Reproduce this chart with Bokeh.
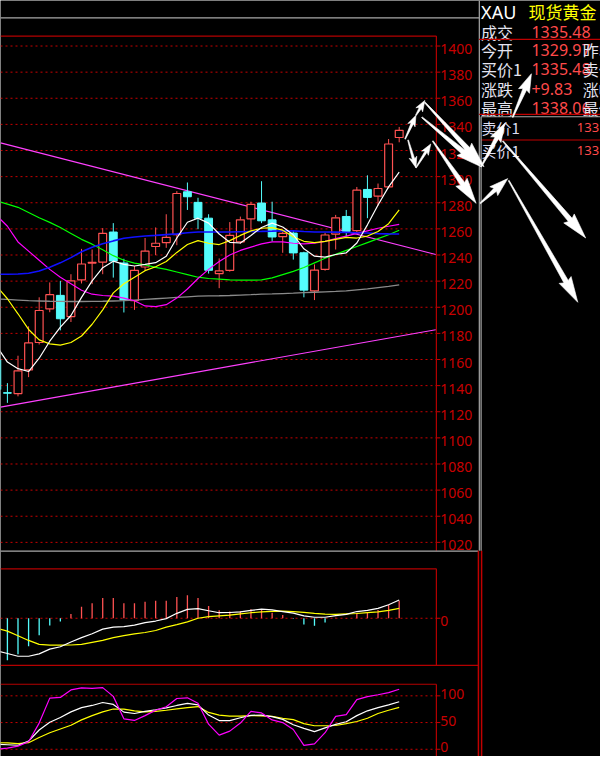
import math
from bokeh.plotting import figure
from bokeh.models import Range1d
from bokeh.core.properties import value
from bokeh.embed import file_html
from bokeh.resources import INLINE

# ---------------- data ----------------
idx = list(range(-1, 38))
opens = [1160, 1134.6, 1133.9, 1152, 1173, 1198.8, 1209.1, 1192.9, 1221, 1233.8,
         1234.6, 1257.6, 1233.9, 1205.1, 1230.8, 1246.5, 1249.5, 1255.6, 1288.4, 1280.3,
         1268.2, 1225.8, 1228.3, 1250, 1267.7, 1279.8, 1266.9, 1254, 1256.8, 1241.7,
         1212.6, 1229, 1256, 1269.5, 1258.6, 1290.2, 1285.1, 1292.2, 1329.97]
highs = [1162, 1141.9, 1162.9, 1185.4, 1207.6, 1219, 1220.2, 1225.3, 1244.7, 1244.2,
         1260.6, 1264.4, 1237.1, 1231.6, 1253, 1261.1, 1271.2, 1288.9, 1295.5, 1283.8,
         1271.2, 1237.4, 1265.2, 1269.4, 1280.8, 1296.5, 1280.8, 1258, 1258.5, 1242.5,
         1232.8, 1257, 1270.7, 1274.5, 1292.1, 1301, 1294.7, 1328.8, 1338.06]
lows = [1135, 1126.8, 1131.8, 1146.5, 1171.5, 1196.2, 1182.3, 1188.7, 1218.2, 1217.7,
        1225.3, 1222.7, 1196, 1198, 1227.8, 1239.9, 1245.5, 1247.5, 1274.5, 1259.8,
        1225.8, 1214.6, 1227.3, 1248.5, 1259.3, 1264.4, 1250.5, 1241.7, 1236.5, 1207.6,
        1205.5, 1228, 1244.2, 1254.3, 1257.5, 1268.2, 1277.8, 1291, 1326.3]
closes = [1137, 1134.2, 1151.3, 1172.7, 1197.5, 1209.6, 1191.2, 1220.2, 1233.1, 1234.3,
          1256.6, 1235.4, 1205.6, 1228.3, 1243, 1249, 1253.5, 1287.1, 1284.6, 1268.2,
          1228.3, 1227.8, 1255.1, 1266.9, 1278.8, 1266.2, 1253.8, 1256.6, 1241.6, 1213.1,
          1228.5, 1255.3, 1268.5, 1258.1, 1289.6, 1284.1, 1290.9, 1325, 1335.48]

ma_white = [1170, 1158, 1153, 1150.8, 1161, 1174, 1184.8, 1193.7, 1207.6, 1220.2,
            1230.3, 1235.3, 1232.8, 1231.6, 1232.8, 1234.1, 1239.1, 1253, 1265.1, 1268.2,
            1264.4, 1256.1, 1249.7, 1249.2, 1255, 1261.1, 1264.4, 1261.4, 1255.5, 1244.7,
            1239.1, 1238.4, 1240.4, 1241.7, 1249.2, 1263.1, 1278.3, 1292.2, 1303.5]
ma_yellow = [1216, 1206.5, 1195, 1183, 1175, 1172, 1171, 1173, 1178, 1187,
             1198, 1211, 1218, 1223, 1228, 1231, 1235, 1242, 1248, 1251,
             1249, 1248, 1251, 1255, 1258.5, 1260.5, 1261, 1259, 1254, 1250.5,
             1249.5, 1250.5, 1252, 1253.5, 1253, 1254.5, 1258, 1264, 1274.5]
ma_magenta = [1270, 1262, 1250, 1243, 1236, 1229, 1223, 1218, 1213, 1210,
              1209, 1208.5, 1207, 1205, 1201, 1200.5, 1202, 1207, 1214, 1222,
              1229, 1235, 1240, 1243.5, 1246, 1248.5, 1250, 1250, 1249, 1248.5,
              1249, 1250.5, 1252.5, 1254.5, 1256.5, 1258.5, 1260.5, 1262, 1263.5]
ma_green = [1281.5, 1279, 1276.5, 1272.5, 1268.5, 1265, 1261, 1256.5, 1252, 1248.3,
            1244, 1239.5, 1236, 1233.8, 1232.4, 1230.5, 1229, 1227, 1225, 1223,
            1222, 1221.5, 1221, 1220.7, 1220.7, 1221, 1222.5, 1225, 1227.5, 1230.4,
            1234, 1237.5, 1240.5, 1243.5, 1246.5, 1249.5, 1252.5, 1255.5, 1259]
ma_blue = [1225.2, 1225.3, 1225.5, 1226, 1227.8, 1230.7, 1234, 1238, 1242.5, 1246,
           1248.6, 1250.8, 1252.8, 1253.8, 1254.5, 1255, 1255.6, 1256.2, 1257, 1257.6,
           1257.6, 1257.6, 1257.6, 1257.8, 1258, 1258.1, 1258.3, 1258.6, 1258.5, 1258,
           1257.6, 1257.6, 1257.5, 1257.3, 1257, 1256.8, 1256.4, 1256.2, 1256.1]
ma_gray = [1206.3, 1206, 1205.5, 1205, 1204.8, 1204.6, 1204.5, 1204.4, 1204.4, 1204.5,
           1204.6, 1204.8, 1205, 1205.5, 1206, 1206.5, 1207, 1207.5, 1208, 1208.5,
           1208.7, 1208.8, 1209, 1209.3, 1209.6, 1210, 1210.2, 1210.5, 1210.8, 1211.2,
           1211.5, 1211.8, 1212.1, 1212.6, 1213.3, 1214, 1215, 1216, 1217.2]

trend_upper_x = [-0.65, 40.45]
trend_upper_y = [1325.8, 1240.4]
trend_lower_x = [-0.65, 40.45]
trend_lower_y = [1123.6, 1182.8]

macd_hist = [-10.5, -10.6, -9.1, -7.1, -4.3, -1.8, -0.8, 1.1, 2.9, 3.8,
             5.1, 5.1, 3.8, 3.8, 4.2, 4.4, 4.4, 5.4, 5.8, 5.1,
             3.1, 2.0, 1.7, 1.8, 2.3, 2.1, 1.4, 0.8, -0.1, -1.6,
             -1.9, -1.1, 0.1, 0.05, 1.3, 1.6, 2.1, 3.4, 4.4]
macd_dif = [-8.25, -8.9, -9.6, -9.6, -9.0, -7.8, -7.2, -6.0, -4.9, -3.9,
            -2.75, -2.25, -2.1, -1.75, -1.1, -0.7, -0.1, 1.25, 2.25, 2.45,
            1.9, 1.4, 1.45, 1.6, 2.0, 2.3, 2.1, 1.7, 1.3, 0.6,
            0.25, 0.25, 0.65, 1.0, 1.7, 2.0, 2.5, 3.4, 4.6]
macd_dea = [-2.5, -3.25, -4.4, -5.6, -6.6, -6.8, -6.8, -6.75, -6.6, -6.1,
            -5.6, -4.9, -4.4, -3.95, -3.6, -3.1, -2.25, -1.6, -0.9, 0,
            0.4, 0.6, 0.8, 1.1, 1.4, 1.6, 1.75, 1.8, 1.7, 1.5,
            1.25, 1.05, 1.0, 1.1, 1.2, 1.4, 1.6, 2.0, 2.5]

kdj_k = [9.5, 8.5, 7.5, 15.4, 36, 50.6, 59.5, 70, 78, 82,
         87.5, 84, 69.5, 67, 71, 74, 77.5, 82, 86, 83,
         64, 53.7, 53.7, 59, 63.5, 64, 61, 56, 46, 39,
         33, 40, 46.5, 51.5, 63, 72, 78, 83, 89]
kdj_d = [12.3, 12, 10.5, 12.3, 22, 31, 38, 45, 55, 63,
         70, 75.3, 75.3, 72, 70, 71, 73, 75.5, 78, 80,
         69, 64, 62, 62, 63, 62.5, 61.7, 58, 55.6, 48,
         44, 44, 44.5, 48, 52, 58, 67, 73, 78.4]
kdj_j = [0, 2, 6, 14, 49, 95.7, 97, 111, 114.8, 114,
         115.4, 99, 57, 54, 63, 73, 79.5, 95, 96.3, 86,
         47, 26.5, 34, 49, 71, 68, 55, 50, 37, 7.4,
         10, 31, 61.5, 65, 93, 98.5, 102, 106, 112.3]

price_ticks = list(range(1020, 1401, 20))
kdj_ticks = [0, 50, 100]

quote_labels = ["成交", "今开", "买价1", "涨跌", "最高"]
quote_values = ["1335.48", "1329.97", "1335.48", "+9.83", "1338.06"]
quote_side = ["", "昨收", "卖价", "涨幅", "最低"]
book_labels = ["卖价1", "买价1"]
book_values = ["133", "133"]

# ---------------- layout anchors (reference pixels) ----------------
X_I0, X_STEP = 7.0, 10.73          # x pixel of candle 0, spacing
Y_1400, PX_PER_20 = 46.0, 26.4      # price panel
MACD_Y0, MACD_PX = 624.3, 4.0       # macd zero line, px per unit
KDJ_Y0, KDJ_PX = 756.7, 0.54        # kdj zero line, px per unit
FRAME_R = 441.7
VIEW_L, VIEW_R, VIEW_T, VIEW_B = 0, 608, 0, 764


def xi(px):
    return (px - X_I0) / X_STEP


def price_at(py):
    return 1400 - (py - Y_1400) * 20.0 / PX_PER_20


def macd_at(py):
    return (MACD_Y0 - py) / MACD_PX


def kdj_at(py):
    return (KDJ_Y0 - py) / KDJ_PX


RED_GRID = "#c80000"
RED_TXT = "#c80000"
UP = "#ff5252"
DOWN = "#54fcfc"
NUM_RED = "#ff4a4a"
CJK = value("Noto Sans CJK SC")

p = figure(width=600, height=756,
           x_range=Range1d(xi(VIEW_L), xi(VIEW_R)),
           y_range=Range1d(price_at(VIEW_B), price_at(VIEW_T)),
           output_backend="svg", toolbar_location=None, min_border=0,
           x_axis_type=None, y_axis_type=None,
           background_fill_color="black", border_fill_color="black",
           outline_line_color=None)
p.extra_x_ranges = {"px": Range1d(VIEW_L, VIEW_R)}
p.extra_y_ranges = {"py": Range1d(VIEW_B, VIEW_T),
                    "macd": Range1d(macd_at(VIEW_B), macd_at(VIEW_T)),
                    "kdj": Range1d(kdj_at(VIEW_B), kdj_at(VIEW_T))}

PX = dict(x_range_name="px", y_range_name="py")

# ---------------- price panel grid / frame / axis ----------------
n = len(price_ticks)
p.segment(x0=[0] * n, x1=[FRAME_R] * n, y0=price_ticks, y1=price_ticks,
          x_range_name="px", line_color=RED_GRID, line_width=1, line_dash="2 3")
p.segment(x0=[FRAME_R] * n, x1=[FRAME_R + 4] * n, y0=price_ticks, y1=price_ticks,
          x_range_name="px", line_color=RED_GRID, line_width=1)
p.text(x=[445.5] * n, y=price_ticks, text=[str(t) for t in price_ticks],
       x_range_name="px", y_offset=3, text_color=RED_TXT, text_font=value("Noto Sans"),
       text_font_size="14px", text_baseline="middle", text_align="left")

# frames and separators (pixel space)
p.segment(x0=[0, FRAME_R, 0, FRAME_R, 0, FRAME_R, 0],
          y0=[36, 36, 574.3, 574.3, 672, 691, 691],
          x1=[FRAME_R, FRAME_R, FRAME_R, FRAME_R, 484, FRAME_R, FRAME_R],
          y1=[36, 556, 574.3, 672, 672, 764, 691],
          line_color="#b40000", line_width=1.2, **PX)
p.segment(x0=[0, 0, 485.2], y0=[17.5, 556.5, 0], x1=[485, 484, 485.2], y1=[17.5, 556.5, 556],
          line_color="#a8a8a8", line_width=1.2, **PX)
p.segment(x0=[484.3, 487.5], y0=[556, 556], x1=[484.3, 487.5], y1=[764, 764],
          line_color="#c00000", line_width=1.5, **PX)

# ---------------- trend lines ----------------
p.line(trend_upper_x, trend_upper_y, line_color="#ff40ff", line_width=1.2)
p.line(trend_lower_x, trend_lower_y, line_color="#ff40ff", line_width=1.2)

# ---------------- candles ----------------
up_i = [i for i, o, c in zip(idx, opens, closes) if c >= o]
dn_i = [i for i, o, c in zip(idx, opens, closes) if c < o]
up = [(o, h, l, c) for o, h, l, c in zip(opens, highs, lows, closes) if c >= o]
dn = [(o, h, l, c) for o, h, l, c in zip(opens, highs, lows, closes) if c < o]

p.segment(x0=dn_i, x1=dn_i, y0=[d[2] for d in dn], y1=[d[1] for d in dn],
          line_color=DOWN, line_width=1)
p.vbar(x=dn_i, width=0.74, top=[d[0] for d in dn], bottom=[d[3] for d in dn],
       fill_color=DOWN, line_color=DOWN, line_width=1)
p.segment(x0=up_i, x1=up_i, y0=[u[3] for u in up], y1=[u[1] for u in up],
          line_color=UP, line_width=1)
p.segment(x0=up_i, x1=up_i, y0=[u[2] for u in up], y1=[u[0] for u in up],
          line_color=UP, line_width=1)
p.vbar(x=up_i, width=0.74, top=[u[3] for u in up], bottom=[u[0] for u in up],
       fill_color="black", line_color=UP, line_width=1.2)

# ---------------- moving averages ----------------
p.line(idx, ma_gray, line_color="#8a8a8a", line_width=1.3)
p.line(idx, ma_green, line_color="#00ff00", line_width=1.2)
p.line(idx, ma_magenta, line_color="#ff00ff", line_width=1.2)
p.line(idx, ma_blue, line_color="#1010ff", line_width=1.6)
p.line(idx, ma_yellow, line_color="#ffff00", line_width=1.2)
p.line(idx, ma_white, line_color="#ffffff", line_width=1.2)

# ---------------- MACD ----------------
p.segment(x0=[0], x1=[FRAME_R], y0=[0], y1=[0], x_range_name="px", y_range_name="macd",
          line_color=RED_GRID, line_width=1, line_dash="2 3")
p.segment(x0=[FRAME_R], x1=[FRAME_R + 4], y0=[0], y1=[0], x_range_name="px",
          y_range_name="macd", line_color=RED_GRID, line_width=1)
p.text(x=[445.5], y=[0], text=["0"], x_range_name="px", y_range_name="macd", y_offset=3,
       text_color=RED_TXT, text_font=value("Noto Sans"), text_font_size="14px",
       text_baseline="middle")
h_up = [(i, v) for i, v in zip(idx, macd_hist) if v >= 0]
h_dn = [(i, v) for i, v in zip(idx, macd_hist) if v < 0]
p.segment(x0=[a for a, _ in h_up], x1=[a for a, _ in h_up], y0=[0] * len(h_up),
          y1=[b for _, b in h_up], y_range_name="macd", line_color=UP, line_width=1.3)
p.segment(x0=[a for a, _ in h_dn], x1=[a for a, _ in h_dn], y0=[0] * len(h_dn),
          y1=[b for _, b in h_dn], y_range_name="macd", line_color=DOWN, line_width=1.3)
p.line(idx, macd_dea, y_range_name="macd", line_color="#ffff00", line_width=1.2)
p.line(idx, macd_dif, y_range_name="macd", line_color="#ffffff", line_width=1.2)

# ---------------- KDJ ----------------
nk = len(kdj_ticks)
p.segment(x0=[0] * nk, x1=[FRAME_R] * nk, y0=kdj_ticks, y1=kdj_ticks, x_range_name="px",
          y_range_name="kdj", line_color=RED_GRID, line_width=1, line_dash="2 3")
p.segment(x0=[FRAME_R] * nk, x1=[FRAME_R + 4] * nk, y0=kdj_ticks, y1=kdj_ticks,
          x_range_name="px", y_range_name="kdj", line_color=RED_GRID, line_width=1)
p.text(x=[445.5] * nk, y=kdj_ticks, text=[str(t) for t in kdj_ticks], x_range_name="px",
       y_range_name="kdj", y_offset=-2, text_color=RED_TXT, text_font=value("Noto Sans"),
       text_font_size="14px", text_baseline="middle")
p.line(idx, kdj_d, y_range_name="kdj", line_color="#ffff00", line_width=1.2)
p.line(idx, kdj_k, y_range_name="kdj", line_color="#ffffff", line_width=1.2)
p.line(idx, kdj_j, y_range_name="kdj", line_color="#ff00ff", line_width=1.2)

# ---------------- quote panel ----------------
row_y = [31.7, 50.5, 69.5, 89.3, 108.3]
p.text(x=[487], y=[11.5], text=["XAU"], text_color="white", text_font=value("Noto Sans"),
       text_font_size="18px", text_baseline="middle", **PX)
p.text(x=[535], y=[11.5], text=["现货黄金"], text_color="#ffff00", text_font=CJK,
       text_font_size="17px", text_baseline="middle", **PX)
p.text(x=[487] * 5, y=row_y, text=quote_labels, text_color="#e4e4f0", text_font=CJK,
       text_font_size="16px", text_baseline="middle", **PX)
p.text(x=[538] * 5, y=row_y, text=quote_values, text_color=NUM_RED,
       text_font=value("Noto Sans"), text_font_size="16px", text_baseline="middle", **PX)
p.text(x=[590] * 5, y=row_y, text=quote_side, text_color="#e4e4f0", text_font=CJK,
       text_font_size="16px", text_baseline="middle", **PX)
p.text(x=[487.5] * 2, y=[128.3, 151.7], text=book_labels, text_color="#dcdcf0",
       text_font=CJK, text_font_size="15px", text_baseline="middle", **PX)
p.text(x=[584] * 2, y=[128.3, 151.7], text=book_values, text_color=NUM_RED,
       text_font=value("Noto Sans"), text_font_size="13px", text_baseline="middle", **PX)
p.segment(x0=[485, 485, 487], y0=[39.3, 115, 141], x1=[608, 608, 608], y1=[39.3, 115, 141],
          line_color="#c00000", line_width=1.2, **PX)
p.segment(x0=[487, 487], y0=[117.5, 117.5], x1=[608, 487], y1=[117.5, 556],
          line_color="#a8a8a8", line_width=1.2, **PX)

# ---------------- hand-drawn arrows (pixel annotations) ----------------
arrows = [
    (410, 140, 421, 116, "s"), (421, 116, 430, 101, "s"),
    (430, 103, 490, 168, "l"), (427, 118, 487, 168, "l"),
    (413, 141, 421, 169, "s"), (421, 169, 436, 145, "s"),
    (438, 142, 482, 205, "l"), (486, 205, 514, 180, "m"),
    (515, 182, 585, 305, "l"), (509, 142, 593, 240, "l"),
    (487, 168, 511, 124, "m"), (519, 118, 538, 74, "m"),
]
sizes = {"s": (0.8, 2.5, 9, 8), "m": (1.0, 4, 17, 12), "l": (1.0, 5, 24, 14)}
axs, ays = [], []
for x0, y0, x1, y1, s in arrows:
    w0, w1, hl, hw = sizes[s]
    L = math.hypot(x1 - x0, y1 - y0)
    ux, uy = (x1 - x0) / L, (y1 - y0) / L
    nx, ny = -uy, ux
    bx, by = x1 - ux * hl, y1 - uy * hl
    pts = [(x0 + nx * w0 / 2, y0 + ny * w0 / 2), (bx + nx * w1 / 2, by + ny * w1 / 2),
           (bx + nx * hw / 2 - ux * 2, by + ny * hw / 2 - uy * 2), (x1, y1),
           (bx - nx * hw / 2 - ux * 2, by - ny * hw / 2 - uy * 2),
           (bx - nx * w1 / 2, by - ny * w1 / 2), (x0 - nx * w0 / 2, y0 - ny * w0 / 2)]
    axs.append([q[0] for q in pts])
    ays.append([q[1] for q in pts])
p.patches(axs, ays, fill_color="white", line_color="white", line_width=0.6, **PX)

open("out.html", "w").write(file_html(p, INLINE))
